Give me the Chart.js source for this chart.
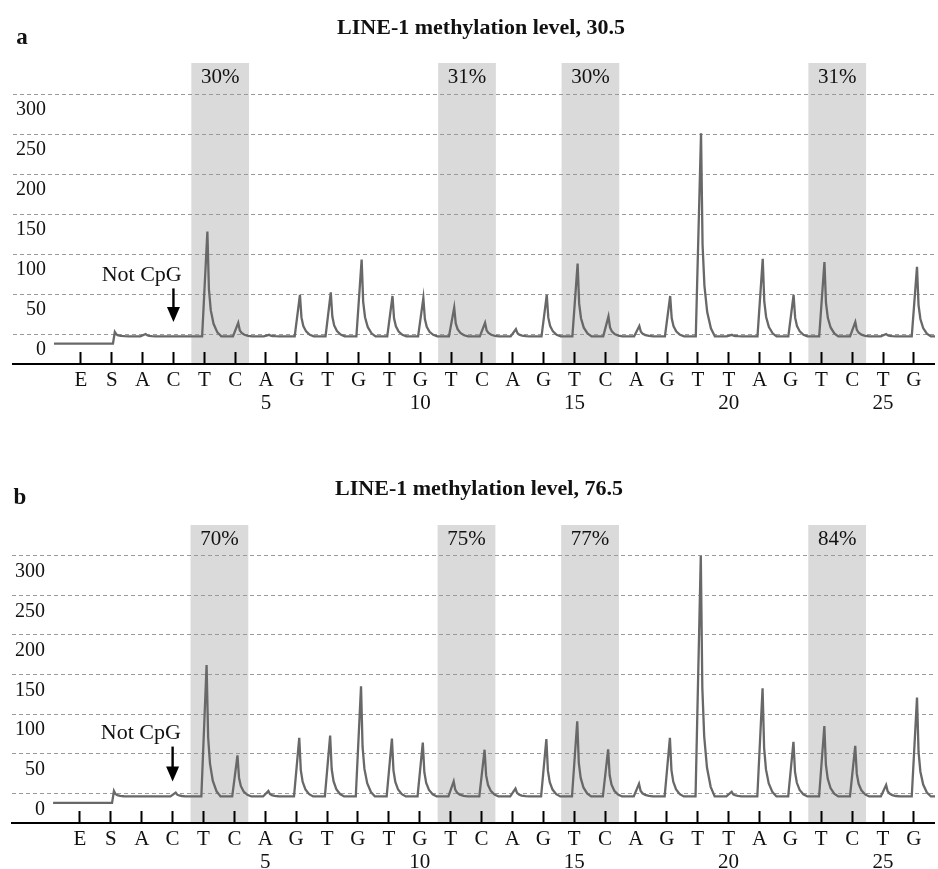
<!DOCTYPE html>
<html><head><meta charset="utf-8">
<script src="https://cdn.jsdelivr.net/npm/chart.js@4.4.1/dist/chart.umd.min.js"></script>
<style>
html,body{margin:0;padding:0;background:#fff;width:938px;height:869px;overflow:hidden;font-family:"Liberation Serif","Times New Roman",serif;color:#111;}
.wrap{position:absolute;left:0;width:938px;height:430px;}
.title{position:absolute;font-weight:bold;font-size:22px;white-space:nowrap;transform:translate(-50%,-50%);}
.panel{position:absolute;font-weight:bold;font-size:23px;transform:translate(-50%,-50%);}
</style></head><body>
<div class="wrap" id="wa" style="top:0"><canvas id="ca"></canvas></div>
<div class="wrap" id="wb" style="top:460px"><canvas id="cb"></canvas></div>
<div class="panel" style="left:22px;top:37px">a</div>
<div class="title" style="left:481px;top:27px">LINE-1 methylation level, 30.5</div>
<div class="panel" style="left:20px;top:497px">b</div>
<div class="title" style="left:479px;top:488px">LINE-1 methylation level, 76.5</div>
<script>
// ---------- data ----------
const dispensations = ['E','S','A','C','T','C','A','G','T','G','T','G','T','C','A','G','T','C','A','G','T','T','A','G','T','C','T','G'];
const positionNumbers = ['','','','','','','5','','','','','10','','','','','15','','','','','20','','','','','25',''];
const yTicks = [0, 50, 100, 150, 200, 250, 300];
const cpgSites = [4, 12, 16, 24];            // dispensation index of the T of each CpG site
const percentA = ['30%', '31%', '30%', '31%'];
const percentB = ['70%', '75%', '77%', '84%'];
// peak heights per dispensation (null = before start)
const peaksA = [null, 2.5, 0, -3, 128, 14, -1, 49, 52, 93, 47.5, 45, 33, 14, 6, 49, 88, 22, 10, 47.5, 251, -1, 94, 49, 90, 15, 0, 84];
const peaksB = [null, 3, -4, 1, 162, 48, 3, 70, 73, 135, 69, 64, 15, 55, 6, 68.5, 91, 55.5, 12, 70, 300, 2, 132.5, 65, 85, 60, 10.5, 121];
const baselineA = -3, preStartA = -12;
const baselineB = -4, preStartB = -12;
const notCpGIndex = 3;

// ---------- styling ----------
const FONT = '"Liberation Serif","Times New Roman",serif';
const PEAK_SHAPE = [[-0.07,0],[0.1,1],[0.15,0.45],[0.21,0.25],[0.3,0.12],[0.42,0.04],[0.55,0]];

function buildTrace(peaks, base, pre) {
  const pts = [{x:-0.87, y:pre}, {x:1.04, y:pre}];
  for (let i = 1; i < peaks.length; i++) {
    const h = peaks[i];
    if (h == null || h <= base) continue;
    for (const [dx, f] of PEAK_SHAPE) {
      if (i === 1 && dx <= 0.04) continue;
      pts.push({x: i + dx, y: base + f * (h - base)});
    }
  }
  if (peaks[1] <= base) pts.push({x:1.06, y:base});
  pts.push({x: 27.8, y: base});
  pts.sort((a, b) => a.x - b.x);
  return pts;
}

const bandPlugin = {
  id: 'bands',
  beforeDraw(chart, args, opts) {
    const {ctx, chartArea, scales:{x}} = chart;
    ctx.save();
    cpgSites.forEach((s, k) => {
      const x1 = x.getPixelForValue(s - 0.42), x2 = x.getPixelForValue(s + 1.45);
      ctx.fillStyle = '#dadada';
      ctx.fillRect(x1, chartArea.top, x2 - x1, chartArea.bottom - chartArea.top);
      ctx.fillStyle = '#111';
      ctx.font = '21px ' + FONT;
      ctx.textAlign = 'center';
      ctx.textBaseline = 'middle';
      ctx.fillText(opts.labels[k], (x1 + x2) / 2, chartArea.top + 14);
    });
    ctx.restore();
  },
  afterDatasetsDraw(chart, args, opts) {
    const {ctx, scales:{x, y}} = chart;
    ctx.save();
    ctx.fillStyle = '#111';
    ctx.font = '22px ' + FONT;
    ctx.textAlign = 'center';
    ctx.textBaseline = 'middle';
    ctx.fillText('Not CpG', x.getPixelForValue(notCpGIndex - 1.03), y.getPixelForValue(opts.textY));
    const ax = x.getPixelForValue(notCpGIndex);
    const y1 = y.getPixelForValue(opts.arrowTop), y2 = y.getPixelForValue(15);
    ctx.strokeStyle = '#000'; ctx.fillStyle = '#000'; ctx.lineWidth = 2.4;
    ctx.beginPath(); ctx.moveTo(ax, y1); ctx.lineTo(ax, y2 - 10); ctx.stroke();
    ctx.beginPath(); ctx.moveTo(ax - 6.5, y2 - 15); ctx.lineTo(ax + 6.5, y2 - 15); ctx.lineTo(ax, y2); ctx.closePath(); ctx.fill();
    ctx.restore();
  }
};

function makeChart(id, peaks, base, pre, labels, pad, textY, arrowTop) {
  return new Chart(document.getElementById(id), {
    type: 'line',
    data: { datasets: [{
      data: buildTrace(peaks, base, pre),
      borderColor: '#686868', borderWidth: 2.3, pointRadius: 0, tension: 0, fill: false
    }]},
    options: {
      responsive: true, maintainAspectRatio: false, animation: false,
      layout: { padding: pad },
      plugins: { legend: {display:false}, tooltip: {enabled:false}, bands: {labels, textY, arrowTop} },
      scales: {
        x: {
          type: 'linear', min: -2.2, max: 27.68,
          afterBuildTicks: s => { s.ticks = dispensations.map((_, i) => ({value: i})); },
          afterFit: s => { s.height = 60; },
          grid: { drawOnChartArea: false, drawTicks: true, tickLength: -12, tickColor: '#000', tickWidth: 2 },
          border: { display: true, color: '#000', width: 2 },
          ticks: { autoSkip: false, maxRotation: 0, padding: 16.5, color: '#111',
            font: { family: FONT, size: 21, lineHeight: 1.1 },
            callback: (v) => { const i = Math.round(v); return positionNumbers[i] ? [dispensations[i], positionNumbers[i]] : dispensations[i]; } }
        },
        y: {
          min: -37.5, max: 338.75,
          afterBuildTicks: s => { s.ticks = yTicks.map(v => ({value: v})); },
          afterFit: s => { s.width = 0; },
          grid: { color: '#9a9a9a', lineWidth: 1, drawTicks: false },
          border: { display: false, dash: [4, 3] },
          ticks: { mirror: true, crossAlign: 'far', padding: 3, labelOffset: 16, color: '#111',
            font: { family: FONT, size: 20 } }
        }
      }
    },
    plugins: [bandPlugin]
  });
}

makeChart('ca', peaksA, baselineA, preStartA, percentA, {top:63, left:13, right:0, bottom:6}, 74, 57);
makeChart('cb', peaksB, baselineB, preStartB, percentB, {top:65, left:12, right:0, bottom:7}, 76, 59);
</script>
</body></html>
